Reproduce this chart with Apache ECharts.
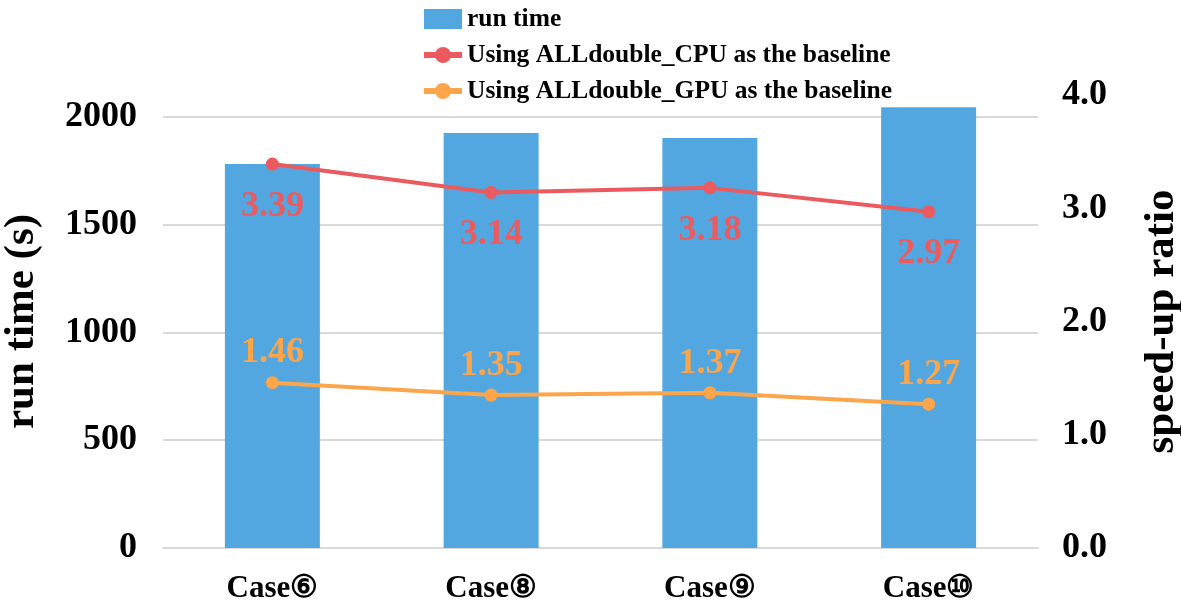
<!DOCTYPE html>
<html>
<head>
<meta charset="utf-8">
<script src="https://cdn.jsdelivr.net/npm/echarts@6/dist/echarts.min.js"></script>
<style>
html,body{margin:0;padding:0;background:#fff;}
#chart{width:1181px;height:612px;}
</style>
</head>
<body>
<div id="chart"></div>
<script>
const categories = ['Case⑥', 'Case⑧', 'Case⑨', 'Case⑩'];
const runTime = [1780, 1924, 1901, 2043];
const cpuSpeedup = [3.39, 3.14, 3.18, 2.97];
const gpuSpeedup = [1.46, 1.35, 1.37, 1.27];
const seriesNames = ['run time', 'Using ALLdouble_CPU as the baseline', 'Using ALLdouble_GPU as the baseline'];

const FONT = '"Liberation Serif", "Times New Roman", serif';
const chart = echarts.init(document.getElementById('chart'));
chart.setOption({
  backgroundColor: '#fff',
  animation: false,
  textStyle: { fontFamily: FONT, fontWeight: 'bold', color: '#000' },
  legend: {
    orient: 'vertical',
    left: 416,
    top: 1,
    itemWidth: 38,
    itemHeight: 20,
    itemGap: 10,
    data: [
      { name: seriesNames[0], icon: 'rect' },
      { name: seriesNames[1], lineStyle: { width: 6 } },
      { name: seriesNames[2], lineStyle: { width: 6 } }
    ],
    textStyle: { fontFamily: FONT, fontWeight: 'bold', fontSize: 25.5, color: '#000', lineHeight: 25.5 }
  },
  grid: { left: 163, right: 143, top: 95, bottom: 64, containLabel: false, outerBoundsMode: 'none' },
  xAxis: {
    type: 'category',
    data: categories,
    axisTick: { show: false },
    axisLine: { lineStyle: { color: '#d9d9d9', width: 2 } },
    axisLabel: { margin: 25, fontSize: 31, fontFamily: FONT, fontWeight: 'bold', color: '#000' }
  },
  yAxis: [
    {
      type: 'value',
      min: 0, max: 2100, interval: 500,
      name: 'run time (s)',
      nameLocation: 'middle',
      nameGap: 120,
      nameTextStyle: { fontSize: 43, fontFamily: FONT, fontWeight: 'bold', color: '#000' },
      axisLine: { show: false },
      axisTick: { show: false },
      axisLabel: { showMaxLabel: false, margin: 26, fontSize: 36, fontFamily: FONT, fontWeight: 'bold', color: '#000',
        formatter: v => String(v) },
      splitLine: { show: true, showMaxLine: false, lineStyle: { color: '#d9d9d9', width: 2 } }
    },
    {
      type: 'value',
      min: 0, max: 4, interval: 1,
      name: 'speed-up ratio',
      nameLocation: 'middle',
      nameGap: 102,
      nameTextStyle: { fontSize: 43, fontFamily: FONT, fontWeight: 'bold', color: '#000' },
      axisLine: { show: false },
      axisTick: { show: false },
      axisLabel: { margin: 24, fontSize: 36, fontFamily: FONT, fontWeight: 'bold', color: '#000',
        formatter: v => v.toFixed(1) },
      splitLine: { show: false }
    }
  ],
  series: [
    {
      name: seriesNames[0],
      type: 'bar',
      data: runTime,
      barWidth: 95,
      itemStyle: { color: '#53A7E0' },
      z: 1
    },
    {
      name: seriesNames[1],
      type: 'line',
      yAxisIndex: 1,
      data: cpuSpeedup,
      symbol: 'circle',
      symbolSize: 13,
      lineStyle: { width: 4, color: '#EB5A5E' },
      itemStyle: { color: '#EB5A5E' },
      label: { show: true, position: 'bottom', distance: 18, fontSize: 36, fontFamily: FONT, fontWeight: 'bold', color: '#EB5A5E',
        formatter: p => p.value.toFixed(2) },
      z: 3
    },
    {
      name: seriesNames[2],
      type: 'line',
      yAxisIndex: 1,
      data: gpuSpeedup,
      symbol: 'circle',
      symbolSize: 13,
      lineStyle: { width: 4, color: '#FDA54A' },
      itemStyle: { color: '#FDA54A' },
      label: { show: true, position: 'top', distance: 5, fontSize: 36, fontFamily: FONT, fontWeight: 'bold', color: '#FDA54A',
        formatter: p => p.value.toFixed(2) },
      z: 3
    }
  ]
});
</script>
</body>
</html>
